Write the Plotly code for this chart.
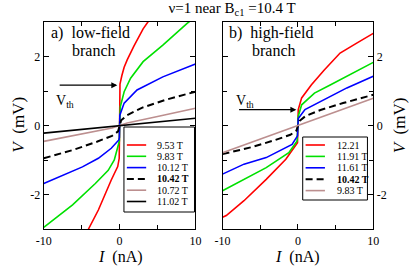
import plotly.graph_objects as go

# ---------------- data ----------------
# Panel a (low-field branch): current I (nA) and voltage V (mV)
a_I_953 = [-5.0, -4.1, -2.8, -1.95, -1.1, -0.25, -0.05, 0.0, 0.05, 0.3, 0.6, 1.0, 1.9, 3.1, 3.8, 5.0]
a_V_953 = [-3.6, -3.0, -2.45, -2.0, -1.58, -1.19, -0.95, 0.0, 1.2, 1.45, 1.69, 1.9, 2.31, 2.8, 3.0, 3.4]
a_I_983 = [-10, -6.2, -3.2, -1.5, -0.7, -0.3, -0.03, 0, 0.03, 0.1, 0.6, 1.45, 3.1, 5.7, 8.9, 10]
a_V_983 = [-2.95, -2.3, -1.68, -1.3, -1.0, -0.7, -0.45, 0, 0.45, 0.55, 0.98, 1.37, 1.85, 2.33, 2.96, 3.15]
a_I_1012 = [-10, -7.3, -4.9, -2.8, -1.1, -0.1, -0.03, 0, 0.03, 0.6, 2.3, 5.7, 10]
a_V_1012 = [-1.68, -1.43, -1.2, -0.95, -0.66, -0.42, -0.35, 0, 0.3, 0.65, 1.03, 1.41, 1.78]
a_I_1042 = [-10, -6, -3, -1, -0.2, 0, 0.2, 1, 3, 6, 10]
a_V_1042 = [-0.95, -0.7, -0.47, -0.3, -0.17, 0, 0.15, 0.3, 0.52, 0.74, 0.98]
a_I_1072 = [-10, -5, -1, 0, 1, 5, 10]
a_V_1072 = [-0.46, -0.25, -0.07, 0, 0.07, 0.26, 0.5]
a_I_1102 = [-10, -5, 0, 5, 10]
a_V_1102 = [-0.22, -0.11, 0, 0.1, 0.21]

# Panel b (high-field branch)
b_I_1221 = [-10, -9.5, -7.15, -4.2, -1.6, -0.33, -0.05, 0, 0.05, 0.5, 1.8, 3.5, 5.6, 7.75, 10]
b_V_1221 = [-2.66, -2.61, -2.18, -1.56, -0.98, -0.6, -0.5, 0, 0.46, 0.8, 1.18, 1.61, 2.1, 2.38, 2.67]
b_I_1191 = [-10, -7.15, -4.2, -1.2, -0.1, 0, 0.05, 0.5, 2.2, 4.35, 6.9, 10]
b_V_1191 = [-1.89, -1.56, -1.22, -0.79, -0.45, 0, 0.27, 0.6, 0.94, 1.18, 1.47, 1.83]
b_I_1161 = [-10, -7.15, -4.2, -0.77, -0.05, 0, 0.05, 0.94, 3.5, 6.5, 10]
b_V_1161 = [-1.41, -1.12, -0.93, -0.55, -0.3, 0, 0.2, 0.46, 0.75, 1.09, 1.43]
b_I_1042 = [-10, -6, -3, -1, -0.2, 0, 0.2, 1, 3, 6, 10]
b_V_1042 = [-0.83, -0.62, -0.42, -0.27, -0.15, 0, 0.13, 0.27, 0.45, 0.65, 0.89]
b_I_983 = [-10, 0, 10]
b_V_983 = [-0.79, 0, 0.79]

a_labels = ["9.53 T", "9.83 T", "10.12 T", "<b>10.42 T</b>", "10.72 T", "11.02 T"]
b_labels = ["12.21", "11.91 T", "11.61 T", "<b>10.42 T</b>", "9.83 T"]

x_tickvals = [-10, 0, 10]
x_ticktext = ["-10", "0", "10"]
y_tickvals = [-2, 0, 2]
y_ticktext = ["-2", "0", "2"]

title_text = "ν=1 near B<sub>c1</sub> =10.4 T"

# ---------------- styles ----------------
RED, GREEN, BLUE, BLACK, ROSY = "#ff0000", "#00e000", "#0000ff", "#000000", "#bc8f8f"
FONT = "Liberation Serif"

a_series = [
    (a_I_953, a_V_953, RED, "solid"),
    (a_I_983, a_V_983, GREEN, "solid"),
    (a_I_1012, a_V_1012, BLUE, "solid"),
    (a_I_1042, a_V_1042, BLACK, "dash"),
    (a_I_1072, a_V_1072, ROSY, "solid"),
    (a_I_1102, a_V_1102, BLACK, "solid"),
]
b_series = [
    (b_I_1221, b_V_1221, RED, "solid"),
    (b_I_1191, b_V_1191, GREEN, "solid"),
    (b_I_1161, b_V_1161, BLUE, "solid"),
    (b_I_1042, b_V_1042, BLACK, "dash"),
    (b_I_983, b_V_983, ROSY, "solid"),
]

W, H = 415, 266


def line_style(c, d):
    return dict(color=c, width=1.6 if d == "solid" else 2, dash="7px,4px" if d == "dash" else "solid")


fig = go.Figure()
for (xs, ys, c, d), lab in zip(a_series, a_labels):
    fig.add_trace(go.Scatter(x=xs, y=ys, mode="lines", name=lab, xaxis="x", yaxis="y",
                             line=line_style(c, d), showlegend=False))
for (xs, ys, c, d), lab in zip(b_series, b_labels):
    fig.add_trace(go.Scatter(x=xs, y=ys, mode="lines", name=lab, xaxis="x2", yaxis="y2",
                             line=line_style(c, d), showlegend=False))


def px(x):
    return x / W


def py(y):
    return 1 - y / H


axis_common = dict(range=[-10, 10], showline=True, linecolor="black", linewidth=1.3, mirror="allticks",
                   ticks="inside", ticklen=5, tickcolor="black", tickwidth=1,
                   tickvals=x_tickvals, ticktext=x_ticktext, showgrid=False, zeroline=False,
                   tickfont=dict(family=FONT, size=12, color="black"),
                   minor=dict(tickvals=[-5, 5], ticklen=4, ticks="inside", tickcolor="black"))
yaxis_common = dict(range=[-3, 3], showline=True, linecolor="black", linewidth=1.3, mirror="allticks",
                    ticks="inside", ticklen=5, tickcolor="black", tickwidth=1,
                    tickvals=y_tickvals, ticktext=y_ticktext, showgrid=False, zeroline=False,
                    tickfont=dict(family=FONT, size=12, color="black"),
                    minor=dict(tickvals=[-1, 1], ticklen=4, ticks="inside", tickcolor="black"))

fig.update_layout(
    width=W, height=H, margin=dict(l=0, r=0, t=0, b=0),
    paper_bgcolor="white", plot_bgcolor="white",
    font=dict(family=FONT, color="black"),
    xaxis=dict(domain=[px(37), px(194)], anchor="y", **axis_common),
    yaxis=dict(domain=[py(229), py(22)], anchor="x", **yaxis_common),
    xaxis2=dict(domain=[px(222), px(378)], anchor="y2", **axis_common),
    yaxis2=dict(domain=[py(229), py(22)], anchor="x2", side="right", **yaxis_common),
    title=dict(text=title_text, x=px(232), y=py(8), xanchor="center", yanchor="middle",
               font=dict(family=FONT, size=15, color="black")),
    showlegend=False,
)

ann = []
# axis titles
for cx in (116, 300):
    ann.append(dict(text="<i>I</i>  (nA)", xref="paper", yref="paper", x=px(cx), y=py(257), showarrow=False,
                    font=dict(family=FONT, size=16), xanchor="center", yanchor="middle"))
for cx in (10, 405):
    ann.append(dict(text="<i>V</i>  (mV)", xref="paper", yref="paper", x=px(cx), y=py(125), showarrow=False,
                    font=dict(family=FONT, size=17), textangle=-90, xanchor="center", yanchor="middle"))
# panel labels
ann.append(dict(text="a)  low-field", xref="paper", yref="paper", x=px(42), y=py(33), showarrow=False,
                font=dict(family=FONT, size=16), xanchor="left", yanchor="middle"))
ann.append(dict(text="branch", xref="paper", yref="paper", x=px(64), y=py(51), showarrow=False,
                font=dict(family=FONT, size=16), xanchor="left", yanchor="middle"))
ann.append(dict(text="b)  high-field", xref="paper", yref="paper", x=px(227), y=py(33), showarrow=False,
                font=dict(family=FONT, size=16), xanchor="left", yanchor="middle"))
ann.append(dict(text="branch", xref="paper", yref="paper", x=px(250), y=py(51), showarrow=False,
                font=dict(family=FONT, size=16), xanchor="left", yanchor="middle"))
# V_th arrows
ann.append(dict(x=-0.3, y=1.17, ax=-8.1, ay=1.17, xref="x", yref="y", axref="x", ayref="y",
                showarrow=True, arrowhead=2, arrowsize=1, arrowwidth=1.2, arrowcolor="black", text=""))
ann.append(dict(text="V<sub>th</sub>", xref="paper", yref="paper", x=px(48), y=py(101), showarrow=False,
                font=dict(family=FONT, size=14), xanchor="left", yanchor="middle"))
ann.append(dict(x=-0.2, y=0.46, ax=-8.0, ay=0.46, xref="x2", yref="y2", axref="x2", ayref="y2",
                showarrow=True, arrowhead=2, arrowsize=1, arrowwidth=1.2, arrowcolor="black", text=""))
ann.append(dict(text="V<sub>th</sub>", xref="paper", yref="paper", x=px(234), y=py(101), showarrow=False,
                font=dict(family=FONT, size=14), xanchor="left", yanchor="middle"))

shapes = []


def legend(box, rows, line_x, text_x, series, labels):
    x0, x1, y0, y1 = box
    shapes.append(dict(type="rect", xref="paper", yref="paper", x0=px(x0), x1=px(x1), y0=py(y1), y1=py(y0),
                       line=dict(color="black", width=1), fillcolor="white", layer="above"))
    for r, s, lab in zip(rows, series, labels):
        shapes.append(dict(type="line", xref="paper", yref="paper", x0=px(line_x[0]), x1=px(line_x[1]),
                           y0=py(r), y1=py(r), layer="above", line=line_style(s[2], s[3])))
        ann.append(dict(text=lab, xref="paper", yref="paper", x=px(text_x), y=py(r), showarrow=False,
                        font=dict(family=FONT, size=10), xanchor="left", yanchor="middle"))


legend((120, 193, 127, 212), [145 + 11.3 * k for k in range(6)], (123, 143), 152, a_series, a_labels)
legend((305, 372, 137, 200), [145 + 11.4 * k for k in range(5)], (308, 328), 338, b_series, b_labels)

fig.update_layout(annotations=ann, shapes=shapes)
fig.write_html("out.html", config={"displayModeBar": False},
               post_script="document.body.style.margin='0';")
